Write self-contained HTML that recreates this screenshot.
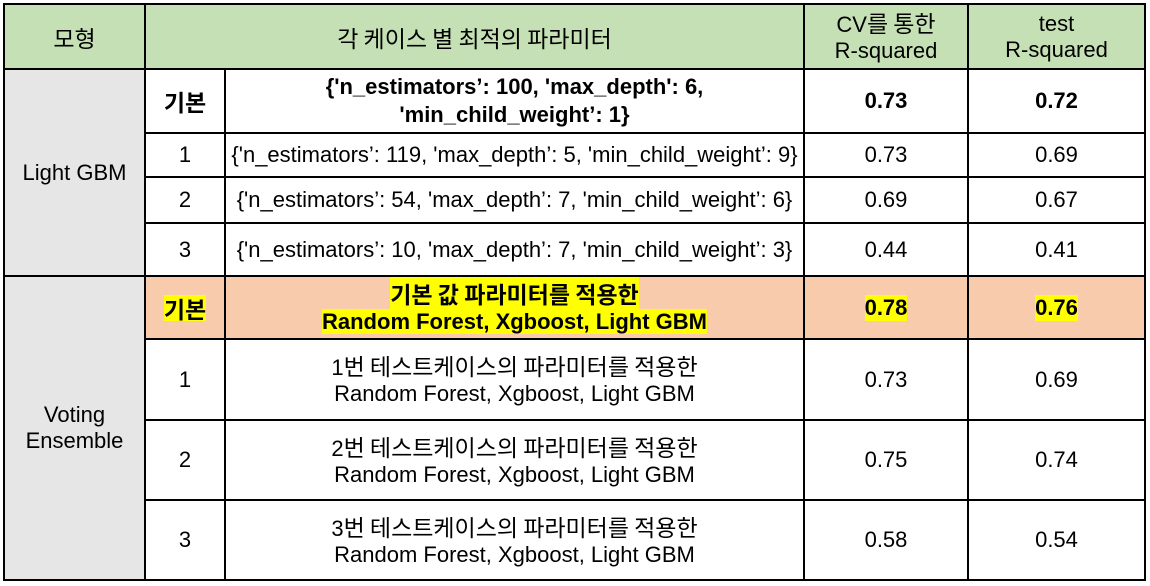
<!DOCTYPE html>
<html><head><meta charset="utf-8"><style>
html,body{margin:0;padding:0;background:#fff;width:1150px;height:586px;overflow:hidden}
body{position:relative;font-family:"Liberation Sans","Noto Sans CJK KR",sans-serif;font-size:22px;color:#000}
.c{position:absolute;display:flex;align-items:center;justify-content:center;text-align:center;line-height:26px;box-sizing:border-box;white-space:nowrap}
.k{font-family:"Noto Sans CJK KR","Liberation Sans",sans-serif;font-size:23px}
.h{background:#c5e0b4}
.g{background:#e7e6e6}
.p{background:#f8cbad}
.b{font-weight:bold}
.y{background:#ffff00}
.l{position:absolute;background:#000}
</style></head><body>
<div class="c h" style="left:4px;top:4px;width:141px;height:65px"><span class="k">모형</span></div>
<div class="c h" style="left:145px;top:4px;width:659px;height:65px"><span class="k">각 케이스 별 최적의 파라미터</span></div>
<div class="c h" style="left:804px;top:4px;width:164px;height:65px"><div>CV<span class="k">를 통한</span><br>R-squared</div></div>
<div class="c h" style="left:968px;top:4px;width:177px;height:65px">test<br>R-squared</div>
<div class="c g" style="left:4px;top:69px;width:141px;height:207px">Light GBM</div>
<div class="c g" style="left:4px;top:276px;width:141px;height:304px">Voting<br>Ensemble</div>

<div class="c b" style="left:145px;top:69px;width:80px;height:64px"><span class="k">기본</span></div>
<div class="c b" style="left:225px;top:69px;width:579px;height:64px;line-height:28px">{'n_estimators’: 100, 'max_depth': 6,<br>'min_child_weight’: 1}</div>
<div class="c b" style="left:804px;top:69px;width:164px;height:64px">0.73</div>
<div class="c b" style="left:968px;top:69px;width:177px;height:64px">0.72</div>

<div class="c" style="left:145px;top:133px;width:80px;height:44px">1</div>
<div class="c" style="left:225px;top:133px;width:579px;height:44px">{'n_estimators’: 119, 'max_depth’: 5, 'min_child_weight’: 9}</div>
<div class="c" style="left:804px;top:133px;width:164px;height:44px">0.73</div>
<div class="c" style="left:968px;top:133px;width:177px;height:44px">0.69</div>

<div class="c" style="left:145px;top:177px;width:80px;height:46px">2</div>
<div class="c" style="left:225px;top:177px;width:579px;height:46px">{'n_estimators’: 54, 'max_depth’: 7, 'min_child_weight’: 6}</div>
<div class="c" style="left:804px;top:177px;width:164px;height:46px">0.69</div>
<div class="c" style="left:968px;top:177px;width:177px;height:46px">0.67</div>

<div class="c" style="left:145px;top:223px;width:80px;height:53px">3</div>
<div class="c" style="left:225px;top:223px;width:579px;height:53px">{'n_estimators’: 10, 'max_depth’: 7, 'min_child_weight’: 3}</div>
<div class="c" style="left:804px;top:223px;width:164px;height:53px">0.44</div>
<div class="c" style="left:968px;top:223px;width:177px;height:53px">0.41</div>

<div class="c b p" style="left:145px;top:276px;width:80px;height:63px"><span class="y k">기본</span></div>
<div class="c b p" style="left:225px;top:276px;width:579px;height:63px"><div><span class="y k">기본 값 파라미터를 적용한</span><br><span class="y">Random Forest, Xgboost, Light GBM</span></div></div>
<div class="c b p" style="left:804px;top:276px;width:164px;height:63px"><span class="y">0.78</span></div>
<div class="c b p" style="left:968px;top:276px;width:177px;height:63px"><span class="y">0.76</span></div>

<div class="c" style="left:145px;top:339px;width:80px;height:81px">1</div>
<div class="c" style="left:225px;top:339px;width:579px;height:81px"><div>1<span class="k">번 테스트케이스의 파라미터를 적용한</span><br>Random Forest, Xgboost, Light GBM</div></div>
<div class="c" style="left:804px;top:339px;width:164px;height:81px">0.73</div>
<div class="c" style="left:968px;top:339px;width:177px;height:81px">0.69</div>

<div class="c" style="left:145px;top:420px;width:80px;height:80px">2</div>
<div class="c" style="left:225px;top:420px;width:579px;height:80px"><div>2<span class="k">번 테스트케이스의 파라미터를 적용한</span><br>Random Forest, Xgboost, Light GBM</div></div>
<div class="c" style="left:804px;top:420px;width:164px;height:80px">0.75</div>
<div class="c" style="left:968px;top:420px;width:177px;height:80px">0.74</div>

<div class="c" style="left:145px;top:500px;width:80px;height:80px">3</div>
<div class="c" style="left:225px;top:500px;width:579px;height:80px"><div>3<span class="k">번 테스트케이스의 파라미터를 적용한</span><br>Random Forest, Xgboost, Light GBM</div></div>
<div class="c" style="left:804px;top:500px;width:164px;height:80px">0.58</div>
<div class="c" style="left:968px;top:500px;width:177px;height:80px">0.54</div>

<div class="l" style="left:3px;top:3px;width:1143px;height:2px"></div>
<div class="l" style="left:3px;top:579px;width:1143px;height:2px"></div>
<div class="l" style="left:3px;top:3px;width:2px;height:578px"></div>
<div class="l" style="left:1144px;top:3px;width:2px;height:578px"></div>
<div class="l" style="left:3px;top:68px;width:1143px;height:2px"></div>
<div class="l" style="left:3px;top:275px;width:1143px;height:2px"></div>
<div class="l" style="left:145px;top:132px;width:1000px;height:2px"></div>
<div class="l" style="left:145px;top:176px;width:1000px;height:2px"></div>
<div class="l" style="left:145px;top:222px;width:1000px;height:2px"></div>
<div class="l" style="left:145px;top:338px;width:1000px;height:2px"></div>
<div class="l" style="left:145px;top:419px;width:1000px;height:2px"></div>
<div class="l" style="left:145px;top:499px;width:1000px;height:2px"></div>
<div class="l" style="left:144px;top:3px;width:2px;height:578px"></div>
<div class="l" style="left:224px;top:68px;width:2px;height:513px"></div>
<div class="l" style="left:803px;top:3px;width:2px;height:578px"></div>
<div class="l" style="left:967px;top:3px;width:2px;height:578px"></div>
</body></html>
